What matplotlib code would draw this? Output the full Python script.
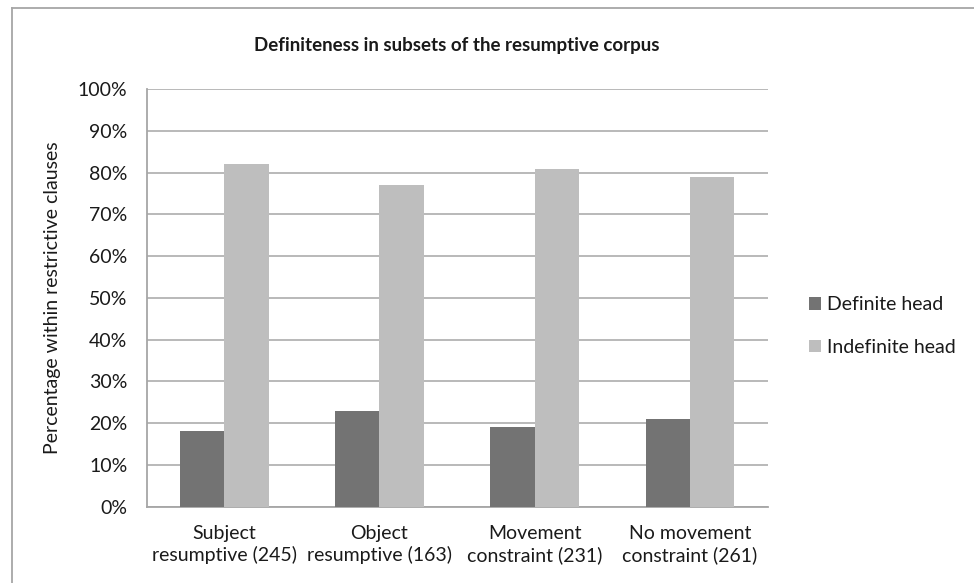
import numpy as np
import matplotlib.pyplot as plt
from matplotlib.lines import Line2D

categories = ["Subject\nresumptive (245)", "Object\nresumptive (163)",
              "Movement\nconstraint (231)", "No movement\nconstraint (261)"]
definite = [18, 23, 19, 21]
indefinite = [82, 77, 81, 79]
series_names = ["Definite head", "Indefinite head"]

plt.rcParams['font.family'] = ['Lato', 'DejaVu Sans']
text_color = '#1a1a1a'

fig = plt.figure(figsize=(9.74, 5.83), dpi=100)
ax = fig.add_axes([0.1506, 0.1312, 0.6374, 0.7156])

x = np.arange(len(categories))
w = 1 / 3.5  # Excel gap width 150%
b1 = ax.bar(x - w / 2, definite, width=w, color='#737373', label=series_names[0], zorder=3)
b2 = ax.bar(x + w / 2, indefinite, width=w, color='#bebebe', label=series_names[1], zorder=3)

ax.set_xlim(-0.5, len(categories) - 0.5)
ax.set_ylim(0, 100)
ax.set_yticks(range(0, 101, 10))
ax.set_yticklabels([f"{v}%" for v in range(0, 101, 10)])
ax.set_xticks(x)
ax.set_xticklabels(categories, linespacing=1.3)
ax.yaxis.grid(True, color='#b3b3b3', linewidth=1.3, zorder=0)
ax.set_axisbelow(True)
ax.tick_params(axis='both', length=0, labelsize=14, colors=text_color)
ax.tick_params(axis='y', pad=14)
ax.tick_params(axis='x', pad=13)
for s in ['top', 'right']:
    ax.spines[s].set_visible(False)
for s in ['left', 'bottom']:
    ax.spines[s].set_color('#a6a6a6')
    ax.spines[s].set_linewidth(1.3)

ax.set_ylabel("Percentage within restrictive clauses", fontsize=14, color=text_color, labelpad=12)
fig.text(0.469, 1 - 45 / 583, "Definiteness in subsets of the resumptive corpus",
         ha='center', va='center', fontsize=13.5, fontweight='bold', color=text_color)

leg = fig.legend(handles=[b1, b2], loc='center left', bbox_to_anchor=(0.813, 1 - 326 / 583),
                 frameon=False, fontsize=14, handlelength=0.6, handleheight=0.6,
                 handletextpad=0.3, labelspacing=1.3, labelcolor=text_color)

# outer chart frame (only left and top edges are visible)
fig.add_artist(Line2D([12 / 974, 12 / 974], [0, 1 - 8 / 583], color='#a6a6a6', lw=1.3,
                      transform=fig.transFigure))
fig.add_artist(Line2D([12 / 974, 1], [1 - 8 / 583, 1 - 8 / 583], color='#a6a6a6', lw=1.3,
                      transform=fig.transFigure))

fig.savefig("out.png", dpi=100)
